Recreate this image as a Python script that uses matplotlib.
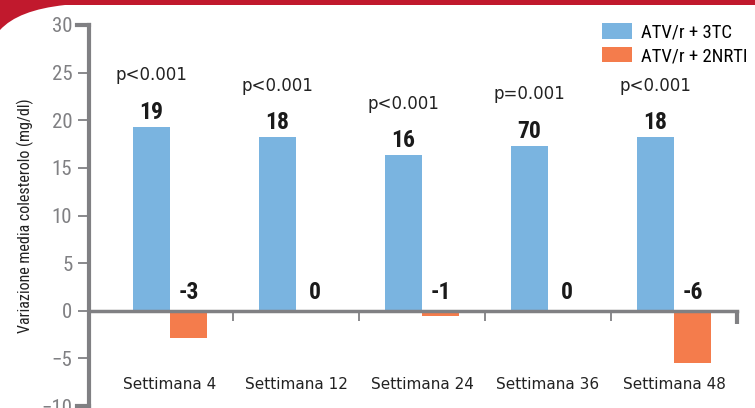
import matplotlib
matplotlib.use("Agg")
import matplotlib.pyplot as plt
import numpy as np
from matplotlib import font_manager
from matplotlib.path import Path
from matplotlib.patches import PathPatch

weeks = ["Settimana 4", "Settimana 12", "Settimana 24", "Settimana 36", "Settimana 48"]
atv_3tc = [19.3, 18.2, 16.3, 17.3, 18.2]
atv_2nrti = [-2.9, 0.0, -0.6, 0.0, -5.5]
atv_3tc_labels = ["19", "18", "16", "70", "18"]
atv_2nrti_labels = ["-3", "0", "-1", "0", "-6"]
p_values = ["p<0.001", "p<0.001", "p<0.001", "p=0.001", "p<0.001"]
series_names = ["ATV/r + 3TC", "ATV/r + 2NRTI"]

BLUE = "#7ab4e0"
ORANGE = "#f47c4c"
GREY = "#808083"
RED = "#c1192d"

# pick a narrow face for the axis texts, whatever is on this machine
fonts = font_manager.fontManager.ttflist
names = {f.name for f in fonts}
narrow = {"family": ["DejaVu Sans"], "stretch": "normal"}
for cand in ["Liberation Sans Narrow", "Roboto Condensed", "Open Sans Condensed",
             "Noto Sans Condensed", "DejaVu Sans Condensed"]:
    if cand in names:
        narrow = {"family": [cand, "DejaVu Sans"], "stretch": "normal"}
        break
else:
    for fam in ["DejaVu Sans", "Noto Sans", "Open Sans", "Roboto", "Liberation Sans"]:
        if any(f.name == fam and f.stretch in ("condensed", "semi-condensed") for f in fonts):
            narrow = {"family": [fam, "DejaVu Sans"], "stretch": "condensed"}
            break
NARROW = narrow["family"]
STRETCH = narrow["stretch"]

fig = plt.figure(figsize=(7.55, 4.08), dpi=100)
ax = fig.add_axes([89 / 755, 2 / 408, (737 - 89) / 755, (406 - 25) / 408])

x = np.arange(len(weeks))
w = 0.294
ax.bar(x - w / 2, atv_3tc, w, color=BLUE, label=series_names[0], zorder=2)
ax.bar(x + w / 2, atv_2nrti, w, color=ORANGE, label=series_names[1], zorder=2)

ax.set_xlim(-0.643, 4.5)
ax.set_ylim(-10, 30)

for s in ["top", "right"]:
    ax.spines[s].set_visible(False)
ax.spines["left"].set_color(GREY)
ax.spines["left"].set_linewidth(3)
ax.spines["bottom"].set_color(GREY)
ax.spines["bottom"].set_linewidth(2.5)
ax.spines["bottom"].set_position(("data", 0))
ax.spines["bottom"].set_zorder(3)

ax.set_yticks(range(-10, 31, 5))
ax.tick_params(axis="y", direction="out", length=8, width=1.3, color=GREY,
               labelcolor=GREY, labelsize=15, pad=4)
for lab in ax.get_yticklabels():
    lab.set_family(NARROW)
    lab.set_stretch(STRETCH)

# heavier caps at both ends of the value axis
ytrans = ax.get_yaxis_transform()
for yend in (-10, 30):
    ax.plot([-0.0185, 0], [yend, yend], color=GREY, lw=3, solid_capstyle="projecting",
            transform=ytrans, clip_on=False, zorder=3)

ax.set_xticks(x)
ax.set_xticklabels(weeks)
ax.set_xticks(x[:-1] + 0.5, minor=True)
ax.tick_params(axis="x", which="major", length=0, pad=48, labelsize=11, labelcolor="#222222")
ax.tick_params(axis="x", which="minor", direction="out", length=7, width=1.3, color=GREY)
ax.plot([4.5, 4.5], [0, -1.4], color=GREY, lw=3, solid_capstyle="butt", clip_on=False, zorder=3)

ax.set_ylabel("Variazione media colesterolo (mg/dl)", family=NARROW, stretch=STRETCH,
              fontsize=11.5, color="#222222", labelpad=5)

# value labels and p-values
for i in range(len(weeks)):
    ax.text(x[i] - w / 2, atv_3tc[i] + 0.35, atv_3tc_labels[i], ha="center", va="bottom",
            family=NARROW, stretch=STRETCH, fontweight="bold", fontsize=17, color="#1a1a1a")
    ax.text(x[i] + w / 2, max(atv_2nrti[i], 0) + 0.7, atv_2nrti_labels[i], ha="center",
            va="bottom", family=NARROW, stretch=STRETCH, fontweight="bold", fontsize=17,
            color="#1a1a1a")
    ax.text(x[i] - w / 2, atv_3tc[i] + 4.5, p_values[i], ha="center", va="bottom",
            fontsize=12, color="#222222")

ax.legend(loc="upper left", bbox_to_anchor=(602 / 755, 1 - 23 / 408),
          bbox_transform=fig.transFigure, frameon=False, borderpad=0, borderaxespad=0,
          handlelength=1.6, handleheight=0.9, handletextpad=0.5, labelspacing=0.3,
          prop={"family": NARROW, "stretch": STRETCH, "size": 13.5})

# red banner across the top with a curved corner
W, H = 755, 408
verts = [(0, H), (W, H), (W, H - 5), (65, H - 5), (18, H - 10), (0, H - 30), (0, H)]
codes = [Path.MOVETO, Path.LINETO, Path.LINETO, Path.LINETO, Path.CURVE3, Path.CURVE3,
         Path.CLOSEPOLY]
verts = [(vx / W, vy / H) for vx, vy in verts]
fig.patches.append(PathPatch(Path(verts, codes), transform=fig.transFigure,
                             facecolor=RED, edgecolor="none"))

fig.savefig("out.png", dpi=100)
